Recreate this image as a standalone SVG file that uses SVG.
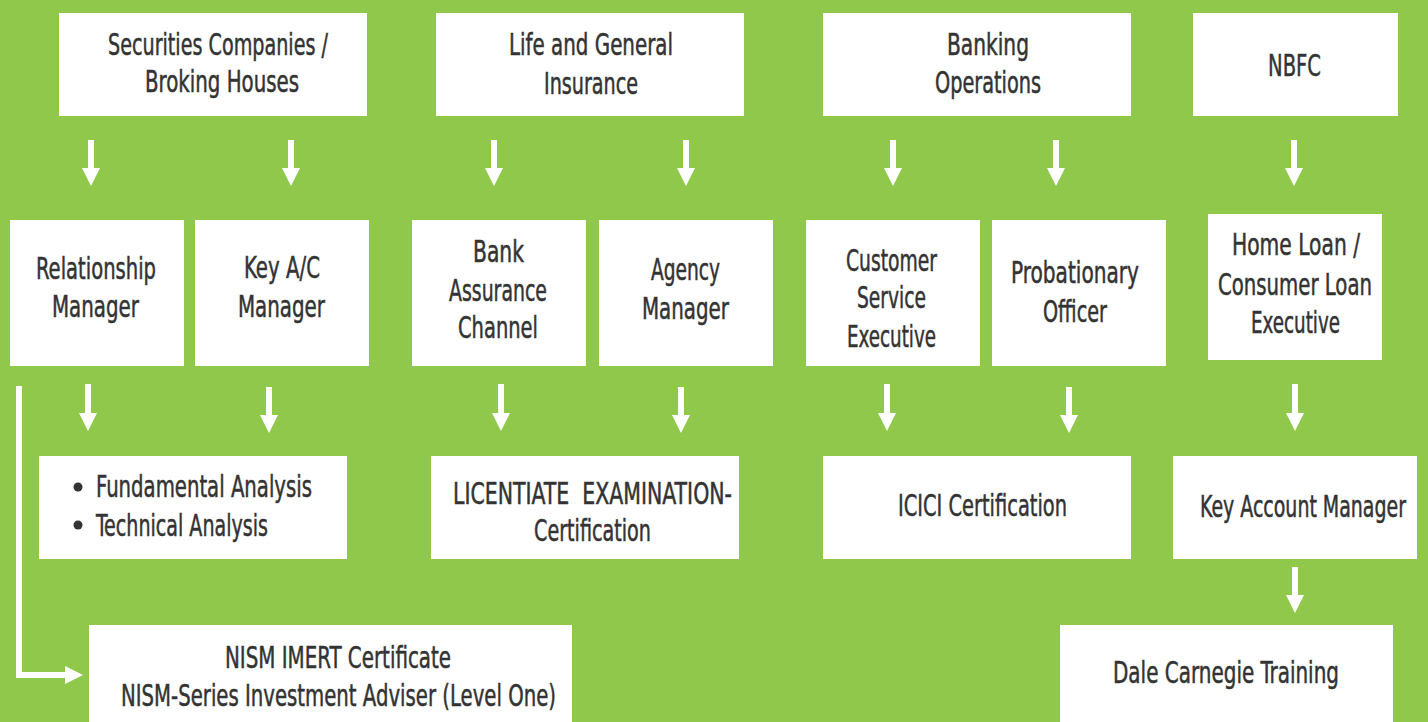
<svg xmlns="http://www.w3.org/2000/svg" width="1428" height="722" viewBox="0 0 1428 722">
<style>
.box{fill:#ffffff}
.t{font-family:"Liberation Sans Narrow","DejaVu Sans Condensed","Liberation Sans",sans-serif;font-size:30px;fill:#333333;stroke:#333333;stroke-width:0.5}
.c{fill:none;stroke:#ffffff;stroke-width:6;marker-end:url(#ah)}
</style>
<defs>
<marker id="ah" markerUnits="userSpaceOnUse" markerWidth="18" markerHeight="18" refX="0" refY="9" orient="auto" viewBox="0 0 18 18">
<path d="M0,0 L18,9 L0,18 z" fill="#ffffff"/>
</marker>
</defs>
<rect x="0" y="0" width="1428" height="722" fill="#8fc84b"/>

<g id="connectors">
<line class="c" x1="91" y1="140" x2="91" y2="168"/>
<line class="c" x1="291" y1="140" x2="291" y2="168"/>
<line class="c" x1="494" y1="140" x2="494" y2="168"/>
<line class="c" x1="686" y1="140" x2="686" y2="168"/>
<line class="c" x1="893" y1="140" x2="893" y2="168"/>
<line class="c" x1="1056" y1="140" x2="1056" y2="168"/>
<line class="c" x1="1294" y1="140" x2="1294" y2="168"/>
<line class="c" x1="88" y1="384" x2="88" y2="413"/>
<line class="c" x1="269" y1="387" x2="269" y2="415"/>
<line class="c" x1="501" y1="384" x2="501" y2="413"/>
<line class="c" x1="681" y1="387" x2="681" y2="415"/>
<line class="c" x1="887" y1="384" x2="887" y2="413"/>
<line class="c" x1="1069" y1="387" x2="1069" y2="415"/>
<line class="c" x1="1295" y1="384" x2="1295" y2="413"/>
<line class="c" x1="1295" y1="567" x2="1295" y2="595"/>
<polyline class="c" points="19,386 19,675 65,675"/>
</g>

<g id="securities">
<rect class="box" x="59" y="13" width="308" height="103"/>
<text class="t" x="108" y="55" textLength="220" lengthAdjust="spacingAndGlyphs">Securities Companies /</text>
<text class="t" x="145" y="92" textLength="154" lengthAdjust="spacingAndGlyphs">Broking Houses</text>
</g>
<g id="insurance">
<rect class="box" x="436" y="13" width="308" height="103"/>
<text class="t" x="509" y="55" textLength="164" lengthAdjust="spacingAndGlyphs">Life and General</text>
<text class="t" x="544" y="94" textLength="94" lengthAdjust="spacingAndGlyphs">Insurance</text>
</g>
<g id="banking">
<rect class="box" x="823" y="13" width="308" height="103"/>
<text class="t" x="947" y="55" textLength="82" lengthAdjust="spacingAndGlyphs">Banking</text>
<text class="t" x="935" y="93" textLength="106" lengthAdjust="spacingAndGlyphs">Operations</text>
</g>
<g id="nbfc">
<rect class="box" x="1193" y="13" width="205" height="103"/>
<text class="t" x="1268" y="76" textLength="53" lengthAdjust="spacingAndGlyphs">NBFC</text>
</g>

<g id="relationship-manager">
<rect class="box" x="10" y="220" width="174" height="146"/>
<text class="t" x="36" y="279" textLength="120" lengthAdjust="spacingAndGlyphs">Relationship</text>
<text class="t" x="52" y="317" textLength="87" lengthAdjust="spacingAndGlyphs">Manager</text>
</g>
<g id="key-ac-manager">
<rect class="box" x="195" y="220" width="174" height="146"/>
<text class="t" x="244" y="278" textLength="76" lengthAdjust="spacingAndGlyphs">Key A/C</text>
<text class="t" x="238" y="317" textLength="87" lengthAdjust="spacingAndGlyphs">Manager</text>
</g>
<g id="bank-assurance">
<rect class="box" x="412" y="220" width="174" height="146"/>
<text class="t" x="473" y="262" textLength="51" lengthAdjust="spacingAndGlyphs">Bank</text>
<text class="t" x="449" y="301" textLength="98" lengthAdjust="spacingAndGlyphs">Assurance</text>
<text class="t" x="458" y="338" textLength="80" lengthAdjust="spacingAndGlyphs">Channel</text>
</g>
<g id="agency-manager">
<rect class="box" x="599" y="220" width="174" height="146"/>
<text class="t" x="651" y="280" textLength="69" lengthAdjust="spacingAndGlyphs">Agency</text>
<text class="t" x="642" y="319" textLength="87" lengthAdjust="spacingAndGlyphs">Manager</text>
</g>
<g id="customer-service">
<rect class="box" x="806" y="220" width="174" height="146"/>
<text class="t" x="846" y="271" textLength="91" lengthAdjust="spacingAndGlyphs">Customer</text>
<text class="t" x="857" y="308" textLength="69" lengthAdjust="spacingAndGlyphs">Service</text>
<text class="t" x="847" y="347" textLength="89" lengthAdjust="spacingAndGlyphs">Executive</text>
</g>
<g id="probationary-officer">
<rect class="box" x="992" y="220" width="174" height="146"/>
<text class="t" x="1011" y="283" textLength="128" lengthAdjust="spacingAndGlyphs">Probationary</text>
<text class="t" x="1043" y="322" textLength="64" lengthAdjust="spacingAndGlyphs">Officer</text>
</g>
<g id="home-loan">
<rect class="box" x="1208" y="214" width="174" height="146"/>
<text class="t" x="1232" y="255" textLength="128" lengthAdjust="spacingAndGlyphs">Home Loan /</text>
<text class="t" x="1218" y="295" textLength="154" lengthAdjust="spacingAndGlyphs">Consumer Loan</text>
<text class="t" x="1251" y="333" textLength="89" lengthAdjust="spacingAndGlyphs">Executive</text>
</g>

<g id="analysis">
<rect class="box" x="39" y="456" width="308" height="103"/>
<circle cx="78" cy="487" r="4.5" fill="#333333"/>
<circle cx="78" cy="525" r="4.5" fill="#333333"/>
<text class="t" x="96" y="497" textLength="216" lengthAdjust="spacingAndGlyphs">Fundamental Analysis</text>
<text class="t" x="96" y="536" textLength="172" lengthAdjust="spacingAndGlyphs">Technical Analysis</text>
</g>
<g id="licentiate">
<rect class="box" x="431" y="456" width="308" height="103"/>
<text class="t" x="453" y="504" textLength="279" lengthAdjust="spacingAndGlyphs" xml:space="preserve">LICENTIATE  EXAMINATION-</text>
<text class="t" x="534" y="541" textLength="117" lengthAdjust="spacingAndGlyphs">Certification</text>
</g>
<g id="icici">
<rect class="box" x="823" y="456" width="308" height="103"/>
<text class="t" x="898" y="516" textLength="169" lengthAdjust="spacingAndGlyphs">ICICI Certification</text>
</g>
<g id="key-account-manager">
<rect class="box" x="1173" y="456" width="244" height="103"/>
<text class="t" x="1406" y="517" text-anchor="end" textLength="206" lengthAdjust="spacingAndGlyphs">Key Account Manager</text>
</g>

<g id="nism">
<rect class="box" x="89" y="625" width="483" height="97"/>
<text class="t" x="225" y="668" textLength="226" lengthAdjust="spacingAndGlyphs">NISM IMERT Certificate</text>
<text class="t" x="121" y="706" textLength="435" lengthAdjust="spacingAndGlyphs">NISM-Series Investment Adviser (Level One)</text>
</g>
<g id="dale-carnegie">
<rect class="box" x="1060" y="625" width="333" height="97"/>
<text class="t" x="1113" y="683" textLength="226" lengthAdjust="spacingAndGlyphs">Dale Carnegie Training</text>
</g>
</svg>
